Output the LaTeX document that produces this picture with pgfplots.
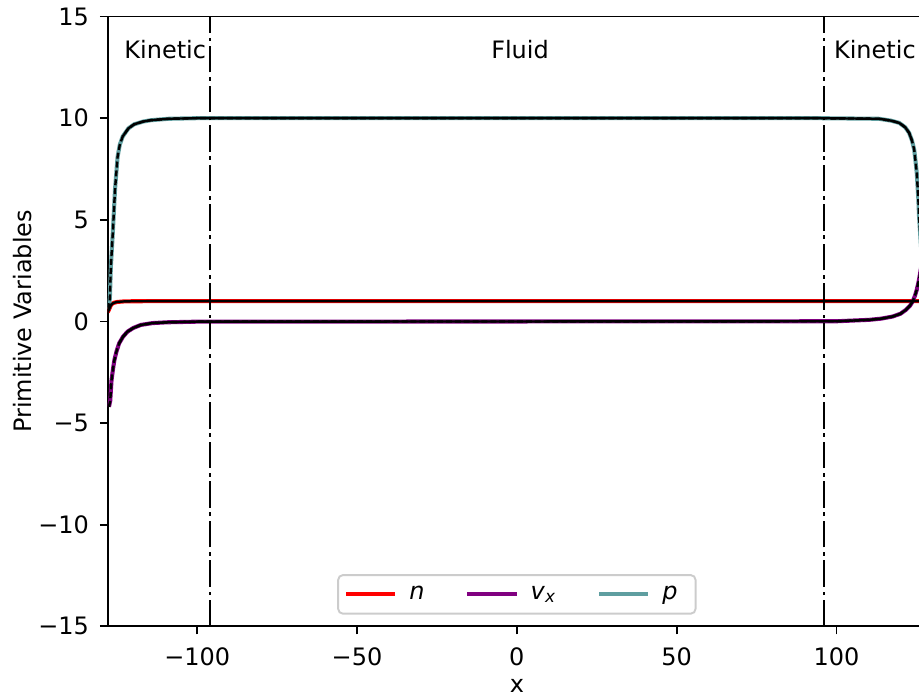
\documentclass[border=0pt]{standalone}
\usepackage{fontspec}
\setmainfont{DejaVu Sans}
\usepackage{pgfplots}
\pgfplotsset{compat=1.18}
\definecolor{cadet}{HTML}{5F9EA0}
\definecolor{mpurple}{HTML}{800080}
\begin{document}
\begin{tikzpicture}
\begin{axis}[
  name=ax,
  scale only axis,
  width=338.3pt, height=254.3pt,
  xmin=-128, xmax=125.8, ymin=-15, ymax=15,
  axis x line*=box, axis y line*=left,
  xtick pos=bottom, ytick pos=left,
  axis line style={line width=0.8pt},
  every tick/.style={black, line width=0.8pt},
  tick align=outside, major tick length=3.3pt,
  xtick={-100,-50,0,50,100},
  xticklabels={−100,−50,0,50,100},
  ytick={-15,-10,-5,0,5,10,15},
  yticklabels={−15,−10,−5,0,5,10,15},
  xticklabel style={yshift=-2pt},
  yticklabel style={xshift=-1pt},
  xlabel={x}, ylabel={Primitive Variables},
  every axis x label/.style={at={(axis cs:0,-15)}, yshift=-25pt, anchor=center},
  every axis y label/.style={at={(axis description cs:0,0.5)}, xshift=-35.3pt, anchor=center, rotate=90},
  clip=true,
  legend columns=3,
  legend style={at={(axis cs:0,-15)}, anchor=south, yshift=4.9pt,
    draw=black!20, rounded corners=2pt, line width=0.8pt, fill=white, fill opacity=0.8, text opacity=1,
    inner xsep=2.5pt, inner ysep=2.5pt,
    /tikz/every even column/.append style={column sep=12pt},
    nodes={inner xsep=5pt}},
  legend image code/.code={\draw[#1, line width=1.7pt] (0pt,0pt) -- (20.5pt,0pt);},
]
\pgfplotstableread{
x y
-128 0.45
-127.5 0.62
-127 0.80
-126.5 0.88
-126 0.92
-125 0.96
-123 0.985
-120 0.995
-110 1.0
0 1.0
110 1.0
120 1.0
128 1.0
}\tn
\pgfplotstableread{
x y
-127.6 -4.2
-127.2 -3.9
-126.8 -2.9
-126.3 -2.3
-125.9 -1.9
-125.2 -1.45
-124.4 -1.07
-123.2 -0.75
-121.8 -0.50
-120 -0.32
-117.6 -0.17
-114 -0.08
-109.3 -0.04
-100 -0.01
0 0
100 0.01
110.2 0.08
114 0.14
117.5 0.24
120 0.38
121.7 0.57
123 0.78
123.8 0.98
124.5 1.25
125.1 1.56
125.8 2.05
126.5 2.7
127.2 4.0
127.6 4.4
}\tv
\pgfplotstableread{
x y
-127.6 0.6
-127.3 1.2
-127.0 2.7
-126.4 4.35
-125.7 6.5
-124.9 8.1
-124.2 8.7
-123.3 9.1
-121.5 9.5
-119.7 9.7
-117 9.83
-114.5 9.9
-109 9.97
-100 10
0 10
94.5 10
113.3 9.97
117 9.88
119.6 9.77
121.5 9.55
122.7 9.28
123.6 8.9
124.3 8.45
124.7 7.9
125.1 7.3
125.6 6.0
125.8 5.2
126.5 3.5
127.3 1.2
127.6 0.6
}\tp
\addplot[red, line width=1.7pt] table {\tn};
\addlegendentry{\textit{n}}
\addplot[mpurple, line width=1.7pt] table {\tv};
\addlegendentry{\textit{v}\textsubscript{\textit{x}}}
\addplot[cadet, line width=1.7pt] table {\tp};
\addlegendentry{\textit{p}}
\addplot[black, line width=1pt, forget plot] table {\tn};
\addplot[black, line width=1pt, dash pattern=on 2.5pt off 1.2pt, forget plot] table {\tv};
\addplot[black, line width=1pt, dash pattern=on 2.5pt off 1.2pt, forget plot] table {\tp};
\addplot[black, line width=1pt, forget plot, restrict x to domain=-124.4:124] table {\tv};
\addplot[black, line width=1pt, forget plot, restrict x to domain=-123.4:123.7] table {\tp};
\addplot[black, line width=0.9pt, dash pattern=on 11pt off 2pt on 1.5pt off 2pt, forget plot] coordinates {(-96,-15) (-96,15)};
\addplot[black, line width=0.9pt, dash pattern=on 11pt off 2pt on 1.5pt off 2pt, forget plot] coordinates {(96,-15) (96,15)};
\node at (axis cs:-110,13.4) {Kinetic};
\node at (axis cs:1,13.4) {Fluid};
\node at (axis cs:112,13.4) {Kinetic};
\end{axis}
\pgfresetboundingbox
\path[use as bounding box] ([xshift=-44.9pt,yshift=-28.9pt]ax.south west) rectangle ([yshift=6.9pt]ax.north east);
\end{tikzpicture}
\end{document}
